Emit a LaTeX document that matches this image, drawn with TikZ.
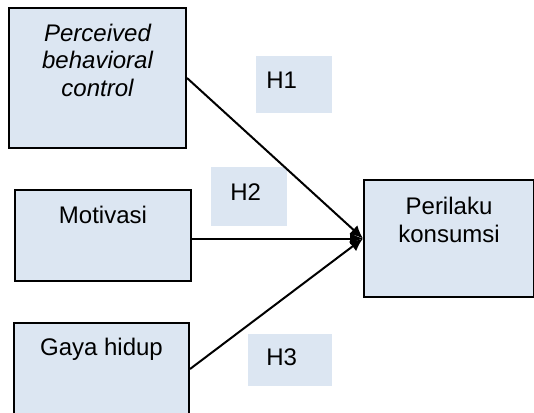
\documentclass[tikz,border=0pt]{standalone}
\usepackage{fontspec}
\setmainfont{Liberation Sans}
\usetikzlibrary{arrows.meta,positioning}
\definecolor{boxblue}{HTML}{DCE6F2}
\tikzset{varbox/.style={draw=black, line width=1pt, fill=boxblue, anchor=north west, inner sep=0pt, align=center, font=\fontsize{12}{13.75}\selectfont},
  hyp/.style={fill=boxblue, anchor=north west, inner ysep=0pt, align=left, font=\fontsize{12}{13.75}\selectfont},
  link/.style={line width=1pt, -{Latex[length=6.5pt,width=6pt]}}}

\begin{document}
\begin{tikzpicture}[x=0.5pt, y=-0.5pt]
    \useasboundingbox (0,0) rectangle (534,412);
    \node[varbox, minimum width=88.5pt, text height=44pt, text depth=26pt] (pbc) at (8,7) {\itshape Perceived\\\itshape behavioral\\\itshape control};
    \node[varbox, minimum width=88pt, text height=16.5pt, text depth=29pt] (motivasi) at (14,189) {Motivasi};
    \node[varbox, minimum width=87.5pt, text height=16pt, text depth=30pt] (gaya) at (13,322) {Gaya hidup};
    \node[varbox, minimum width=85pt, text height=31pt, text depth=27.5pt] (perilaku) at (363,179) {Perilaku\\konsumsi};
    \node[hyp, inner xsep=5pt, text width=28pt, text height=16pt, text depth=12.5pt] (h1) at (256,56) {H1};
    \node[hyp, inner xsep=9.5pt, text width=19pt, text height=16.5pt, text depth=13pt] (h2) at (211,167) {H2};
    \node[hyp, inner xsep=9pt, text width=24pt, text height=15.5pt, text depth=10.5pt] (h3) at (248,334) {H3};
    \draw[link] (pbc.east) -- (perilaku.west);
    \draw[link] (motivasi.east |- perilaku.west) -- (perilaku.west);
    \draw[link] (gaya.east) -- (perilaku.west);
\end{tikzpicture}
\end{document}
